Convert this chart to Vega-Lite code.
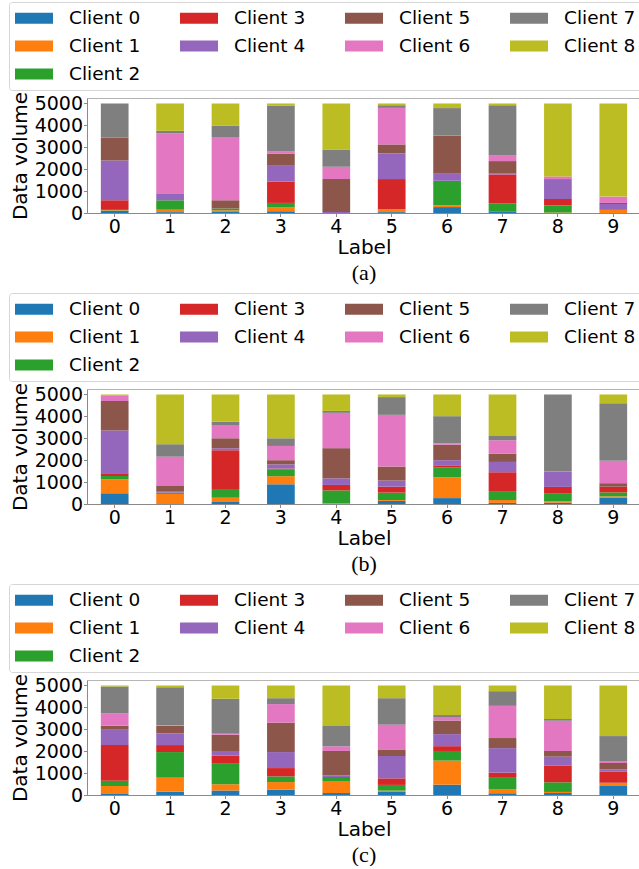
{
  "$schema": "https://vega.github.io/schema/vega-lite/v6.json",
  "background": "white",
  "padding": {"left": 8, "top": 1, "right": 0, "bottom": 0},
  "config": {
    "font": "DejaVu Sans",
    "view": {"stroke": "#b5b5b5", "strokeWidth": 1},
    "axis": {"labelFont": "DejaVu Sans", "titleFont": "DejaVu Sans", "labelFontSize": 19, "titleFontSize": 20, "titleFontWeight": "normal", "labelColor": "#000", "titleColor": "#000", "domainColor": "#8a8a8a", "tickColor": "#8a8a8a", "tickSize": 3.5, "grid": false, "labelPadding": 1},
    "axisX": {"labelAngle": 0, "titlePadding": 1},
    "axisY": {"titlePadding": 4, "format": "d"},
    "legend": {"orient": "none", "legendX": -78, "legendY": -96, "columns": 4, "columnPadding": 39, "rowPadding": 8, "symbolType": "M-1,-0.55H2.8V0.55H-1Z", "symbolSize": 400, "symbolStrokeWidth": 0, "symbolOpacity": 1, "labelOffset": 34, "labelFont": "DejaVu Sans", "labelFontSize": 18.5, "labelColor": "#000", "strokeColor": "#d6d6d6", "strokeWidth": 1, "fillColor": "white", "padding": 6, "cornerRadius": 3, "title": null},
    "title": {"font": "Liberation Serif", "fontSize": 22, "fontWeight": "normal", "color": "#000", "orient": "bottom", "offset": 5}
  },
  "datasets": {
    "a": [
      {"x":0,"c":"Client 0","v":100},{"x":0,"c":"Client 1","v":20},{"x":0,"c":"Client 2","v":60},{"x":0,"c":"Client 3","v":400},{"x":0,"c":"Client 4","v":1820},{"x":0,"c":"Client 5","v":1050},{"x":0,"c":"Client 7","v":1550},
      {"x":1,"c":"Client 0","v":40},{"x":1,"c":"Client 1","v":110},{"x":1,"c":"Client 2","v":430},{"x":1,"c":"Client 4","v":320},{"x":1,"c":"Client 6","v":2730},{"x":1,"c":"Client 7","v":120},{"x":1,"c":"Client 8","v":1250},
      {"x":2,"c":"Client 0","v":40},{"x":2,"c":"Client 1","v":80},{"x":2,"c":"Client 2","v":80},{"x":2,"c":"Client 5","v":380},{"x":2,"c":"Client 6","v":2890},{"x":2,"c":"Client 7","v":530},{"x":2,"c":"Client 8","v":1000},
      {"x":3,"c":"Client 0","v":80},{"x":3,"c":"Client 1","v":190},{"x":3,"c":"Client 2","v":190},{"x":3,"c":"Client 3","v":970},{"x":3,"c":"Client 4","v":760},{"x":3,"c":"Client 5","v":510},{"x":3,"c":"Client 6","v":110},{"x":3,"c":"Client 7","v":2100},{"x":3,"c":"Client 8","v":90},
      {"x":4,"c":"Client 4","v":50},{"x":4,"c":"Client 5","v":1500},{"x":4,"c":"Client 6","v":560},{"x":4,"c":"Client 7","v":790},{"x":4,"c":"Client 8","v":2100},
      {"x":5,"c":"Client 0","v":40},{"x":5,"c":"Client 1","v":130},{"x":5,"c":"Client 3","v":1380},{"x":5,"c":"Client 4","v":1170},{"x":5,"c":"Client 5","v":410},{"x":5,"c":"Client 6","v":1670},{"x":5,"c":"Client 7","v":120},{"x":5,"c":"Client 8","v":80},
      {"x":6,"c":"Client 0","v":270},{"x":6,"c":"Client 1","v":80},{"x":6,"c":"Client 2","v":1120},{"x":6,"c":"Client 4","v":320},{"x":6,"c":"Client 5","v":1740},{"x":6,"c":"Client 7","v":1260},{"x":6,"c":"Client 8","v":210},
      {"x":7,"c":"Client 0","v":80},{"x":7,"c":"Client 2","v":350},{"x":7,"c":"Client 3","v":1330},{"x":7,"c":"Client 4","v":60},{"x":7,"c":"Client 5","v":550},{"x":7,"c":"Client 6","v":270},{"x":7,"c":"Client 7","v":2280},{"x":7,"c":"Client 8","v":80},
      {"x":8,"c":"Client 1","v":20},{"x":8,"c":"Client 2","v":330},{"x":8,"c":"Client 3","v":290},{"x":8,"c":"Client 4","v":910},{"x":8,"c":"Client 6","v":120},{"x":8,"c":"Client 8","v":3330},
      {"x":9,"c":"Client 1","v":150},{"x":9,"c":"Client 3","v":30},{"x":9,"c":"Client 4","v":230},{"x":9,"c":"Client 5","v":50},{"x":9,"c":"Client 6","v":290},{"x":9,"c":"Client 8","v":4250}
    ],
    "b": [
      {"x":0,"c":"Client 0","v":490},{"x":0,"c":"Client 1","v":640},{"x":0,"c":"Client 2","v":150},{"x":0,"c":"Client 3","v":120},{"x":0,"c":"Client 4","v":1950},{"x":0,"c":"Client 5","v":1350},{"x":0,"c":"Client 6","v":270},{"x":0,"c":"Client 8","v":30},
      {"x":1,"c":"Client 0","v":30},{"x":1,"c":"Client 1","v":430},{"x":1,"c":"Client 2","v":60},{"x":1,"c":"Client 4","v":70},{"x":1,"c":"Client 5","v":260},{"x":1,"c":"Client 6","v":1310},{"x":1,"c":"Client 7","v":570},{"x":1,"c":"Client 8","v":2270},
      {"x":2,"c":"Client 0","v":90},{"x":2,"c":"Client 1","v":200},{"x":2,"c":"Client 2","v":400},{"x":2,"c":"Client 3","v":1760},{"x":2,"c":"Client 4","v":100},{"x":2,"c":"Client 5","v":450},{"x":2,"c":"Client 6","v":610},{"x":2,"c":"Client 7","v":140},{"x":2,"c":"Client 8","v":1250},
      {"x":3,"c":"Client 0","v":900},{"x":3,"c":"Client 1","v":370},{"x":3,"c":"Client 2","v":300},{"x":3,"c":"Client 3","v":50},{"x":3,"c":"Client 4","v":190},{"x":3,"c":"Client 5","v":190},{"x":3,"c":"Client 6","v":650},{"x":3,"c":"Client 7","v":350},{"x":3,"c":"Client 8","v":2000},
      {"x":4,"c":"Client 1","v":30},{"x":4,"c":"Client 2","v":590},{"x":4,"c":"Client 3","v":250},{"x":4,"c":"Client 4","v":300},{"x":4,"c":"Client 5","v":1380},{"x":4,"c":"Client 6","v":1610},{"x":4,"c":"Client 7","v":90},{"x":4,"c":"Client 8","v":750},
      {"x":5,"c":"Client 0","v":140},{"x":5,"c":"Client 1","v":40},{"x":5,"c":"Client 2","v":340},{"x":5,"c":"Client 3","v":270},{"x":5,"c":"Client 4","v":280},{"x":5,"c":"Client 5","v":640},{"x":5,"c":"Client 6","v":2360},{"x":5,"c":"Client 7","v":810},{"x":5,"c":"Client 8","v":120},
      {"x":6,"c":"Client 0","v":270},{"x":6,"c":"Client 1","v":950},{"x":6,"c":"Client 2","v":440},{"x":6,"c":"Client 3","v":80},{"x":6,"c":"Client 4","v":260},{"x":6,"c":"Client 5","v":710},{"x":6,"c":"Client 6","v":60},{"x":6,"c":"Client 7","v":1240},{"x":6,"c":"Client 8","v":990},
      {"x":7,"c":"Client 0","v":50},{"x":7,"c":"Client 1","v":130},{"x":7,"c":"Client 2","v":410},{"x":7,"c":"Client 3","v":860},{"x":7,"c":"Client 4","v":470},{"x":7,"c":"Client 5","v":370},{"x":7,"c":"Client 6","v":620},{"x":7,"c":"Client 7","v":200},{"x":7,"c":"Client 8","v":1890},
      {"x":8,"c":"Client 0","v":60},{"x":8,"c":"Client 1","v":60},{"x":8,"c":"Client 2","v":350},{"x":8,"c":"Client 3","v":310},{"x":8,"c":"Client 4","v":680},{"x":8,"c":"Client 6","v":50},{"x":8,"c":"Client 7","v":3490},
      {"x":9,"c":"Client 0","v":300},{"x":9,"c":"Client 1","v":50},{"x":9,"c":"Client 2","v":180},{"x":9,"c":"Client 3","v":260},{"x":9,"c":"Client 5","v":160},{"x":9,"c":"Client 6","v":1020},{"x":9,"c":"Client 7","v":2630},{"x":9,"c":"Client 8","v":400}
    ],
    "c": [
      {"x":0,"c":"Client 0","v":50},{"x":0,"c":"Client 1","v":360},{"x":0,"c":"Client 2","v":240},{"x":0,"c":"Client 3","v":1630},{"x":0,"c":"Client 4","v":700},{"x":0,"c":"Client 5","v":180},{"x":0,"c":"Client 6","v":560},{"x":0,"c":"Client 7","v":1230},{"x":0,"c":"Client 8","v":50},
      {"x":1,"c":"Client 0","v":150},{"x":1,"c":"Client 1","v":640},{"x":1,"c":"Client 2","v":1170},{"x":1,"c":"Client 3","v":320},{"x":1,"c":"Client 4","v":530},{"x":1,"c":"Client 5","v":340},{"x":1,"c":"Client 6","v":40},{"x":1,"c":"Client 7","v":1730},{"x":1,"c":"Client 8","v":80},
      {"x":2,"c":"Client 0","v":210},{"x":2,"c":"Client 1","v":280},{"x":2,"c":"Client 2","v":940},{"x":2,"c":"Client 3","v":360},{"x":2,"c":"Client 4","v":220},{"x":2,"c":"Client 5","v":740},{"x":2,"c":"Client 6","v":50},{"x":2,"c":"Client 7","v":1590},{"x":2,"c":"Client 8","v":610},
      {"x":3,"c":"Client 0","v":240},{"x":3,"c":"Client 1","v":350},{"x":3,"c":"Client 2","v":260},{"x":3,"c":"Client 3","v":380},{"x":3,"c":"Client 4","v":730},{"x":3,"c":"Client 5","v":1340},{"x":3,"c":"Client 6","v":850},{"x":3,"c":"Client 7","v":270},{"x":3,"c":"Client 8","v":580},
      {"x":4,"c":"Client 0","v":90},{"x":4,"c":"Client 1","v":550},{"x":4,"c":"Client 2","v":140},{"x":4,"c":"Client 3","v":40},{"x":4,"c":"Client 4","v":80},{"x":4,"c":"Client 5","v":1110},{"x":4,"c":"Client 6","v":210},{"x":4,"c":"Client 7","v":930},{"x":4,"c":"Client 8","v":1850},
      {"x":5,"c":"Client 0","v":140},{"x":5,"c":"Client 1","v":60},{"x":5,"c":"Client 2","v":260},{"x":5,"c":"Client 3","v":300},{"x":5,"c":"Client 4","v":1020},{"x":5,"c":"Client 5","v":300},{"x":5,"c":"Client 6","v":1130},{"x":5,"c":"Client 7","v":1210},{"x":5,"c":"Client 8","v":580},
      {"x":6,"c":"Client 0","v":470},{"x":6,"c":"Client 1","v":1100},{"x":6,"c":"Client 2","v":440},{"x":6,"c":"Client 3","v":220},{"x":6,"c":"Client 4","v":550},{"x":6,"c":"Client 5","v":620},{"x":6,"c":"Client 6","v":160},{"x":6,"c":"Client 7","v":90},{"x":6,"c":"Client 8","v":1350},
      {"x":7,"c":"Client 0","v":80},{"x":7,"c":"Client 1","v":190},{"x":7,"c":"Client 2","v":550},{"x":7,"c":"Client 3","v":200},{"x":7,"c":"Client 4","v":1120},{"x":7,"c":"Client 5","v":460},{"x":7,"c":"Client 6","v":1470},{"x":7,"c":"Client 7","v":670},{"x":7,"c":"Client 8","v":260},
      {"x":8,"c":"Client 0","v":90},{"x":8,"c":"Client 1","v":50},{"x":8,"c":"Client 2","v":440},{"x":8,"c":"Client 3","v":770},{"x":8,"c":"Client 4","v":400},{"x":8,"c":"Client 5","v":260},{"x":8,"c":"Client 6","v":1380},{"x":8,"c":"Client 7","v":80},{"x":8,"c":"Client 8","v":1530},
      {"x":9,"c":"Client 0","v":410},{"x":9,"c":"Client 1","v":110},{"x":9,"c":"Client 2","v":40},{"x":9,"c":"Client 3","v":500},{"x":9,"c":"Client 4","v":110},{"x":9,"c":"Client 5","v":290},{"x":9,"c":"Client 6","v":90},{"x":9,"c":"Client 7","v":1140},{"x":9,"c":"Client 8","v":2310}
    ]
  },
  "spacing": 8,
  "resolve": {"legend": {"color": "independent"}},
  "vconcat": [
    {
      "data": {"name": "a"},
      "width": 554, "height": 115,
      "title": {"text": "(a)"},
      "mark": {"type": "bar"},
      "encoding": {
        "x": {"field": "x", "type": "ordinal", "scale": {"paddingInner": 0.5, "paddingOuter": 0.25}, "axis": {"title": "Label"}},
        "y": {"field": "v", "type": "quantitative", "stack": "zero", "scale": {"domain": [0, 5250], "nice": false}, "axis": {"values": [0, 1000, 2000, 3000, 4000, 5000], "title": "Data volume"}},
        "color": {"field": "c", "type": "nominal", "scale": {"domain": ["Client 0","Client 7","Client 6","Client 3","Client 1","Client 8","Client 5","Client 4","Client 2"], "range": ["#1f77b4","#7f7f7f","#e377c2","#d62728","#ff7f0e","#bcbd22","#8c564b","#9467bd","#2ca02c"]}},
        "order": {"field": "c", "type": "ordinal", "sort": "ascending"}
      }
    },
    {
      "data": {"name": "b"},
      "width": 554, "height": 115,
      "title": {"text": "(b)"},
      "mark": {"type": "bar"},
      "encoding": {
        "x": {"field": "x", "type": "ordinal", "scale": {"paddingInner": 0.5, "paddingOuter": 0.25}, "axis": {"title": "Label"}},
        "y": {"field": "v", "type": "quantitative", "stack": "zero", "scale": {"domain": [0, 5250], "nice": false}, "axis": {"values": [0, 1000, 2000, 3000, 4000, 5000], "title": "Data volume"}},
        "color": {"field": "c", "type": "nominal", "scale": {"domain": ["Client 0","Client 7","Client 6","Client 3","Client 1","Client 8","Client 5","Client 4","Client 2"], "range": ["#1f77b4","#7f7f7f","#e377c2","#d62728","#ff7f0e","#bcbd22","#8c564b","#9467bd","#2ca02c"]}},
        "order": {"field": "c", "type": "ordinal", "sort": "ascending"}
      }
    },
    {
      "data": {"name": "c"},
      "width": 554, "height": 115,
      "title": {"text": "(c)"},
      "mark": {"type": "bar"},
      "encoding": {
        "x": {"field": "x", "type": "ordinal", "scale": {"paddingInner": 0.5, "paddingOuter": 0.25}, "axis": {"title": "Label"}},
        "y": {"field": "v", "type": "quantitative", "stack": "zero", "scale": {"domain": [0, 5250], "nice": false}, "axis": {"values": [0, 1000, 2000, 3000, 4000, 5000], "title": "Data volume"}},
        "color": {"field": "c", "type": "nominal", "scale": {"domain": ["Client 0","Client 7","Client 6","Client 3","Client 1","Client 8","Client 5","Client 4","Client 2"], "range": ["#1f77b4","#7f7f7f","#e377c2","#d62728","#ff7f0e","#bcbd22","#8c564b","#9467bd","#2ca02c"]}},
        "order": {"field": "c", "type": "ordinal", "sort": "ascending"}
      }
    }
  ]
}
